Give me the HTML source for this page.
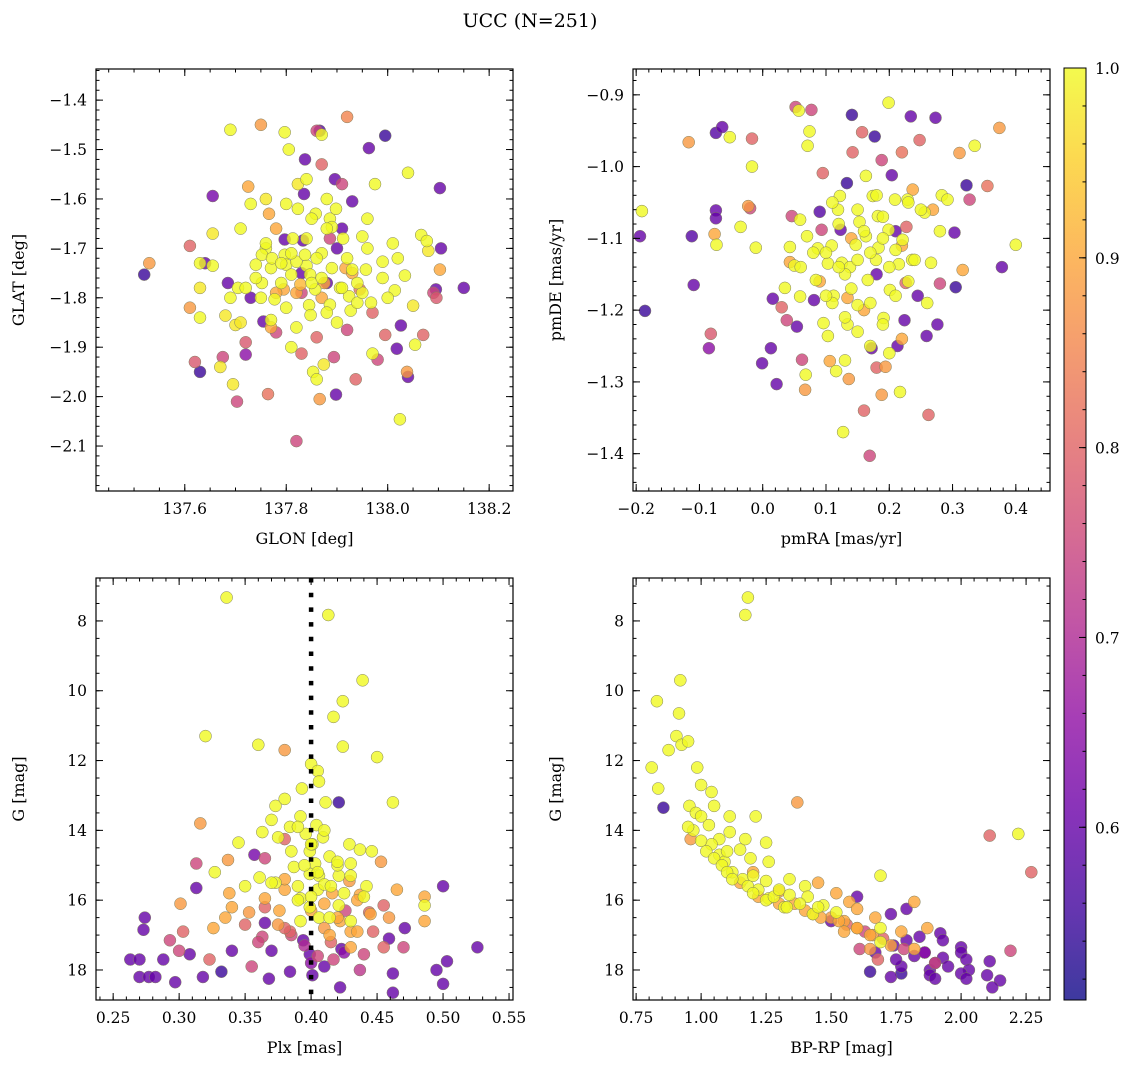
<!DOCTYPE html>
<html><head><meta charset="utf-8">
<style>
html,body{margin:0;padding:0;background:#fff;}
svg{display:block;font-family:"DejaVu Serif","Liberation Serif",serif;}
</style></head>
<body>
<svg id="fig" width="1136" height="1068" viewBox="0 0 1136 1068">
<defs>
<linearGradient id="plasma" x1="0" y1="1" x2="0" y2="0">
<stop offset="0" stop-color="#0d0887"/><stop offset="0.1" stop-color="#41049d"/><stop offset="0.2" stop-color="#6a00a8"/><stop offset="0.3" stop-color="#8f0da4"/><stop offset="0.4" stop-color="#b12a90"/><stop offset="0.5" stop-color="#cc4778"/><stop offset="0.6" stop-color="#e16462"/><stop offset="0.7" stop-color="#f2844b"/><stop offset="0.8" stop-color="#fca636"/><stop offset="0.9" stop-color="#fcce25"/><stop offset="1" stop-color="#f0f921"/>
</linearGradient>
</defs>
<text x="530" y="27" font-size="19" text-anchor="middle">UCC (N=251)</text>
</svg>
<script>
// ---------- data ----------
const glon=[137.52,137.53,137.61,137.61,137.62,137.63,137.63,137.63,137.63,137.64,137.655,137.655,137.655,137.67,137.675,137.68,137.685,137.69,137.695,137.703,137.70,137.705,137.71,137.72,137.72,137.725,137.73,137.75,137.755,137.76,137.76,137.764,137.766,137.77,137.77,137.78,137.79,137.797,137.805,137.81,137.813,137.82,137.82,137.823,137.823,137.83,137.833,137.835,137.837,137.84,137.84,137.845,137.853,137.858,137.86,137.866,137.87,137.874,137.86,137.866,137.87,137.87,137.875,137.88,137.88,137.886,137.886,137.89,137.894,137.896,137.898,137.898,137.91,137.912,137.917,137.92,137.92,137.924,137.927,137.93,137.937,137.94,137.95,137.957,137.963,137.967,137.97,137.975,137.98,137.99,137.995,137.995,138.01,138.014,138.018,138.024,138.026,138.034,138.038,138.04,138.04,138.05,138.054,138.066,138.077,138.08,138.07,138.095,138.103,138.105,138.103,138.09,138.096,138.15,137.752,137.772,137.797,137.80,137.81,137.82,137.795,137.777,137.828,137.847,137.752,137.74,137.73,137.797,137.837,137.857,137.906,137.93,137.945,137.848,137.886,
137.74,137.76,137.78,137.79,137.80,137.81,137.83,137.84,137.85,137.86,137.87,137.88,137.89,137.90,137.91,137.92,137.93,137.95,137.96,137.97,137.99,138.0,137.72,137.71,137.77,137.82,137.85,137.88,137.91,137.94,137.80,137.83,137.87,137.90,137.75,137.78,137.96,138.02,137.69,137.86];
const glat=[-1.753,-1.73,-1.82,-1.695,-1.93,-1.73,-1.78,-1.84,-1.95,-1.73,-1.594,-1.67,-1.735,-1.94,-1.92,-1.836,-1.77,-1.46,-1.975,-2.01,-1.855,-1.78,-1.85,-1.89,-1.915,-1.575,-1.61,-1.45,-1.848,-1.60,-1.70,-1.995,-1.63,-1.74,-1.845,-1.87,-1.77,-1.465,-1.5,-1.90,-1.68,-1.79,-2.09,-1.62,-1.57,-1.913,-1.684,-1.59,-1.52,-1.735,-1.56,-1.815,-1.95,-1.63,-1.462,-1.462,-1.47,-1.935,-1.965,-2.005,-1.53,-1.71,-1.77,-1.77,-1.60,-1.64,-1.68,-1.657,-1.92,-1.56,-1.62,-1.996,-1.57,-1.68,-1.74,-1.865,-1.434,-1.797,-1.826,-1.605,-1.965,-1.81,-1.676,-1.743,-1.497,-1.81,-1.913,-1.57,-1.925,-1.727,-1.875,-1.472,-1.69,-1.785,-1.903,-2.046,-1.856,-1.755,-1.95,-1.96,-1.547,-1.816,-1.895,-1.673,-1.685,-1.705,-1.875,-1.783,-1.578,-1.70,-1.743,-1.79,-1.8,-1.78,-1.713,-1.72,-1.713,-1.733,-1.753,-1.727,-1.783,-1.803,-1.773,-1.753,-1.77,-1.733,-1.80,-1.682,-1.713,-1.783,-1.78,-1.743,-1.783,-1.835,-1.814,
-1.76,-1.69,-1.79,-1.73,-1.82,-1.71,-1.75,-1.68,-1.77,-1.72,-1.80,-1.66,-1.74,-1.70,-1.78,-1.72,-1.75,-1.79,-1.70,-1.83,-1.76,-1.80,-1.78,-1.66,-1.86,-1.86,-1.64,-1.83,-1.66,-1.77,-1.61,-1.79,-1.76,-1.85,-1.80,-1.66,-1.64,-1.72,-1.80,-1.88];
const prob1=[0.55,0.88,0.88,0.8,0.78,1.0,0.98,1.0,0.55,0.6,0.62,0.98,1.0,0.98,0.75,0.98,0.6,1.0,0.98,0.75,0.98,1.0,0.98,0.78,0.65,0.9,1.0,0.88,0.6,0.98,1.0,0.82,0.9,1.0,1.0,0.75,1.0,1.0,1.0,1.0,1.0,0.9,0.75,1.0,0.98,0.8,0.6,0.6,0.6,1.0,1.0,1.0,1.0,1.0,0.75,0.58,1.0,0.98,1.0,0.88,0.8,1.0,0.9,0.6,1.0,1.0,0.75,1.0,0.75,0.6,1.0,0.6,0.75,1.0,0.9,0.75,0.85,1.0,1.0,0.6,0.8,1.0,1.0,1.0,0.6,1.0,1.0,1.0,0.75,1.0,0.8,0.55,1.0,1.0,0.6,1.0,0.6,1.0,0.88,0.6,1.0,0.98,1.0,1.0,1.0,0.98,0.8,0.6,0.6,0.6,0.9,0.75,0.78,0.6,1.0,1.0,1.0,1.0,1.0,1.0,0.9,1.0,0.92,1.0,1.0,1.0,0.6,0.6,1.0,1.0,1.0,1.0,0.82,1.0,1.0,
1.0,1.0,0.9,1.0,1.0,1.0,0.6,1.0,1.0,1.0,0.9,1.0,1.0,0.6,1.0,1.0,0.9,1.0,1.0,0.8,1.0,1.0,1.0,1.0,0.9,1.0,1.0,1.0,0.6,1.0,1.0,0.75,1.0,1.0,1.0,0.9,1.0,1.0,1.0,0.8];

const pmra=[-0.191,-0.194,-0.186,-0.117,-0.112,-0.109,-0.085,-0.082,-0.074,-0.074,-0.074,-0.076,-0.073,-0.064,-0.052,-0.035,-0.023,-0.02,-0.017,-0.017,-0.011,-0.001,0.013,0.016,0.022,0.03,0.035,0.038,0.043,0.043,0.046,0.05,0.054,0.052,0.057,0.059,0.059,0.062,0.067,0.068,0.07,0.071,0.074,0.077,0.081,0.084,0.087,0.09,0.093,0.095,0.096,0.103,0.103,0.106,0.109,0.112,0.116,0.119,0.122,0.123,0.125,0.127,0.133,0.134,0.134,0.136,0.138,0.141,0.142,0.147,0.15,0.153,0.157,0.16,0.163,0.163,0.166,0.169,0.172,0.174,0.177,0.179,0.182,0.183,0.188,0.188,0.191,0.194,0.199,0.199,0.201,0.204,0.209,0.21,0.213,0.215,0.217,0.22,0.221,0.224,0.226,0.227,0.229,0.234,0.236,0.237,0.245,0.248,0.256,0.259,0.262,0.266,0.269,0.273,0.276,0.28,0.283,0.292,0.303,0.305,0.311,0.316,0.322,0.327,0.335,0.355,0.374,0.378,0.4,
0.10,0.12,0.13,0.14,0.15,0.16,0.17,0.18,0.19,0.20,0.21,0.22,0.23,0.11,0.13,0.15,0.17,0.19,0.21,0.12,0.14,0.16,0.18,0.20,0.24,0.26,0.09,0.08,0.25,0.15,0.17,0.19,0.22,0.11,0.13,0.28,0.06,0.18,0.23,0.1];
const pmde=[-1.062,-1.097,-1.201,-0.966,-1.097,-1.165,-1.253,-1.233,-0.953,-1.061,-1.072,-1.094,-1.109,-0.945,-0.959,-1.084,-1.055,-1.058,-0.961,-1.0,-1.113,-1.274,-1.253,-1.184,-1.303,-1.196,-1.169,-1.214,-1.112,-1.133,-1.069,-1.138,-1.223,-0.917,-0.922,-1.074,-1.181,-1.269,-1.311,-1.29,-1.097,-0.971,-0.951,-0.921,-1.186,-1.158,-1.114,-1.063,-1.088,-1.009,-1.218,-1.236,-1.135,-1.271,-1.11,-1.18,-1.285,-1.06,-1.041,-1.088,-1.134,-1.37,-1.023,-1.183,-1.22,-1.296,-1.14,-0.928,-0.98,-1.109,-1.193,-1.077,-0.952,-1.34,-1.013,-1.097,-1.158,-1.403,-1.253,-1.041,-0.958,-1.13,-1.069,-1.113,-0.991,-1.318,-1.211,-1.279,-0.911,-1.088,-1.172,-1.012,-1.046,-1.116,-1.25,-1.136,-1.314,-0.98,-1.102,-1.214,-1.162,-1.084,-1.046,-0.93,-1.13,-1.032,-1.18,-0.963,-1.064,-1.236,-1.346,-1.134,-1.06,-0.932,-1.22,-1.163,-1.04,-1.046,-1.092,-1.168,-0.981,-1.144,-1.026,-1.046,-0.971,-1.027,-0.946,-1.14,-1.109,
-1.12,-1.08,-1.15,-1.10,-1.13,-1.09,-1.12,-1.15,-1.07,-1.14,-1.18,-1.11,-1.16,-1.19,-1.21,-1.06,-1.19,-1.22,-1.09,-1.14,-1.17,-1.20,-1.04,-1.26,-1.13,-1.19,-1.16,-1.12,-1.06,-1.23,-1.25,-1.10,-1.24,-1.05,-1.27,-1.09,-1.14,-1.28,-1.05,-1.18];
const prob2=[1.0,0.6,0.55,0.88,0.58,0.6,0.65,0.78,0.58,0.6,0.6,0.9,1.0,0.6,1.0,1.0,0.88,0.75,0.8,1.0,1.0,0.6,0.6,0.6,0.6,0.8,1.0,0.75,1.0,0.9,0.75,1.0,0.6,0.75,1.0,1.0,1.0,0.75,0.88,1.0,1.0,1.0,1.0,0.75,0.6,1.0,1.0,0.58,0.75,0.8,1.0,1.0,1.0,0.9,1.0,1.0,1.0,1.0,1.0,0.6,1.0,1.0,0.55,0.9,1.0,0.88,1.0,0.55,0.8,1.0,1.0,1.0,0.8,0.8,1.0,1.0,1.0,0.75,0.6,1.0,0.55,1.0,1.0,1.0,0.75,0.88,1.0,0.88,1.0,1.0,1.0,0.6,1.0,1.0,0.6,1.0,1.0,0.82,1.0,0.6,0.8,0.8,1.0,0.6,1.0,0.9,0.6,0.8,1.0,0.6,0.8,1.0,0.9,0.6,0.6,0.75,1.0,1.0,0.6,0.55,0.88,0.9,0.55,0.75,1.0,0.82,0.88,0.6,1.0,
1.0,1.0,1.0,0.9,1.0,1.0,1.0,0.6,1.0,1.0,1.0,0.9,1.0,1.0,1.0,1.0,1.0,1.0,0.6,1.0,1.0,0.9,1.0,1.0,1.0,1.0,0.9,1.0,1.0,1.0,1.0,1.0,0.9,1.0,1.0,1.0,1.0,0.8,1.0,1.0];

const plx=[0.336,0.413,0.439,0.424,0.417,0.32,0.36,0.38,0.424,0.45,0.40,0.405,0.406,0.393,0.411,0.421,0.462,0.373,0.392,0.404,0.316,0.384,0.363,0.38,0.396,0.345,0.429,0.437,0.446,0.414,0.357,0.409,0.399,0.43,0.365,0.337,0.313,0.453,0.387,0.327,0.421,0.429,0.361,0.373,0.35,0.442,0.38,0.405,0.465,0.313,0.5,0.416,0.338,0.437,0.392,0.365,0.486,0.421,0.399,0.301,0.486,0.455,0.376,0.426,0.353,0.34,0.444,0.459,0.406,0.392,0.335,0.365,0.422,0.471,0.274,0.326,0.303,0.384,0.43,0.486,0.273,0.447,0.414,0.363,0.394,0.459,0.293,0.43,0.3,0.34,0.37,0.455,0.423,0.526,0.47,0.263,0.288,0.323,0.27,0.308,0.399,0.417,0.44,0.503,0.332,0.355,0.384,0.401,0.27,0.277,0.282,0.297,0.318,0.368,0.495,0.462,0.5,0.422,0.462,0.437,0.406,0.401,0.403,0.41,0.399,0.414,
0.37,0.375,0.38,0.385,0.39,0.395,0.40,0.405,0.41,0.415,0.42,0.425,0.43,0.435,0.44,0.37,0.38,0.39,0.40,0.41,0.42,0.43,0.365,0.375,0.385,0.395,0.405,0.415,0.425,0.435,0.39,0.40,0.41,0.42,0.38,0.36,0.445,0.35,0.41,0.40];
const gmag3=[7.33,7.83,9.7,10.3,10.75,11.3,11.55,11.7,11.6,11.9,12.1,12.3,12.6,12.8,13.2,13.2,13.2,13.3,13.6,13.85,13.8,13.9,14.05,14.25,14.1,14.35,14.4,14.55,14.6,14.75,14.7,14.2,14.6,14.95,14.8,14.85,14.95,14.9,15.05,15.2,15.3,15.45,15.35,15.5,15.6,15.6,15.7,15.7,15.7,15.65,15.6,15.8,15.8,15.85,15.95,15.95,15.9,16.15,16.2,16.1,16.15,16.15,16.3,16.3,16.35,16.2,16.35,16.5,16.5,16.6,16.5,16.65,16.6,16.8,16.5,16.8,16.9,16.9,16.9,16.6,16.85,16.9,17.0,17.05,17.15,17.1,17.15,17.35,17.45,17.45,17.45,17.35,17.4,17.35,17.35,17.7,17.7,17.7,17.7,17.55,17.55,17.7,17.55,17.75,18.05,17.9,18.05,18.15,18.2,18.2,18.2,18.35,18.2,18.25,18.0,18.1,18.4,18.5,18.65,18.0,15.3,14.4,14.95,15.55,15.25,16.5,
13.7,14.2,13.1,14.6,13.9,15.0,14.4,15.2,14.0,15.6,15.0,15.8,15.3,16.0,15.9,15.5,15.4,16.0,16.3,16.8,16.5,16.6,16.2,16.7,17.0,17.3,17.6,17.2,17.5,16.9,15.6,15.9,16.1,14.9,16.8,17.2,16.4,16.7,17.9,17.8];
const prob3=[1.0,1.0,1.0,1.0,1.0,1.0,1.0,0.88,1.0,1.0,1.0,1.0,1.0,1.0,1.0,0.55,1.0,1.0,1.0,1.0,0.88,1.0,1.0,0.8,1.0,1.0,1.0,1.0,1.0,1.0,0.62,1.0,1.0,1.0,0.75,0.88,0.75,0.88,1.0,1.0,1.0,0.88,1.0,1.0,1.0,1.0,0.9,1.0,0.9,0.6,0.6,0.9,0.9,0.9,1.0,0.9,0.9,1.0,1.0,0.88,1.0,0.8,0.9,0.75,0.88,0.9,0.8,0.88,1.0,1.0,0.9,0.6,0.9,0.6,0.6,0.9,0.8,0.8,0.9,0.9,0.6,0.8,0.9,0.75,0.6,0.6,0.75,0.9,0.75,0.6,0.6,0.8,0.6,0.6,0.75,0.6,0.6,0.8,0.6,0.6,0.6,0.75,0.75,0.6,0.55,0.75,0.6,0.6,0.6,0.6,0.6,0.6,0.6,0.6,0.6,0.6,0.6,0.6,0.6,0.72,1.0,1.0,1.0,1.0,1.0,1.0,
1.0,1.0,1.0,1.0,1.0,1.0,1.0,1.0,1.0,1.0,1.0,1.0,1.0,0.9,1.0,1.0,0.9,1.0,0.9,0.88,0.9,1.0,0.8,0.88,0.75,0.7,0.75,0.8,0.65,0.9,1.0,1.0,0.9,1.0,0.8,0.75,0.9,0.8,0.6,0.65];

const bprp=[1.18,1.17,0.92,0.83,0.915,0.905,0.925,0.875,0.95,0.81,0.985,0.835,1.0,1.04,0.855,0.955,1.37,1.05,1.11,0.98,1.21,1.03,0.97,1.11,1.07,1.17,1.04,0.96,1.15,1.25,1.07,2.22,2.11,1.09,1.19,1.26,1.12,1.2,1.16,1.25,1.34,1.69,1.4,1.22,1.3,1.45,2.27,1.34,1.41,1.26,1.52,1.38,1.47,1.57,1.6,1.32,1.52,1.43,1.6,1.82,1.67,1.55,1.73,1.5,1.79,1.69,1.6,1.77,1.84,1.65,1.79,1.87,1.69,1.92,1.73,1.61,1.93,1.82,2.0,1.67,1.86,2.19,2.0,1.93,1.68,1.9,2.02,2.11,1.77,1.88,2.03,1.65,1.77,1.88,2.0,1.73,1.9,2.1,2.15,2.12,2.02,
0.95,1.0,1.02,1.05,1.08,1.1,1.12,1.15,1.18,1.2,1.22,1.25,1.28,1.3,1.33,1.36,1.4,1.43,1.46,1.5,1.53,1.56,1.6,1.63,1.66,1.7,1.74,1.78,1.82,1.86,1.9,1.95,1.0,1.1,1.2,1.3,1.45,1.55,1.65,1.75];
const gmag4=[7.33,7.83,9.7,10.3,10.65,11.3,11.55,11.7,11.45,12.2,12.2,12.8,12.7,12.9,13.35,13.3,13.2,13.3,13.6,13.5,13.6,13.85,14.0,14.05,14.25,14.25,14.4,14.25,14.55,14.35,14.7,14.1,14.15,14.9,14.8,14.9,15.2,15.2,15.4,15.45,15.4,15.3,15.6,15.7,15.75,15.5,15.2,15.85,15.9,15.95,15.8,16.1,16.15,16.05,15.9,16.2,16.35,16.4,16.25,16.05,16.5,16.6,16.4,16.6,16.25,16.8,16.8,16.9,17.05,17.0,17.15,16.8,17.2,16.95,17.3,17.4,17.15,17.4,17.35,17.5,17.5,17.45,17.5,17.65,17.7,17.8,17.7,17.75,17.9,18.0,18.0,18.05,18.1,18.15,18.1,18.2,18.25,18.15,18.3,18.5,18.25,
13.9,14.3,14.6,14.8,15.0,15.2,15.4,15.5,15.6,15.8,15.9,16.0,15.9,16.1,16.2,16.1,16.3,16.4,16.5,16.5,16.6,16.7,16.8,16.9,17.0,17.1,17.3,17.4,17.6,17.5,17.8,17.9,13.6,14.6,15.3,15.7,16.2,16.9,17.4,17.7];
const prob4=[1.0,1.0,1.0,1.0,1.0,1.0,1.0,1.0,1.0,1.0,1.0,1.0,1.0,1.0,0.55,1.0,0.88,1.0,1.0,1.0,1.0,1.0,1.0,1.0,1.0,1.0,1.0,0.88,1.0,1.0,1.0,1.0,0.8,1.0,1.0,1.0,1.0,0.9,1.0,1.0,1.0,1.0,1.0,1.0,0.9,0.9,0.8,1.0,1.0,1.0,0.9,1.0,1.0,0.9,0.6,1.0,1.0,0.9,0.9,0.9,0.9,0.9,0.6,0.6,0.6,1.0,0.9,0.9,0.6,0.9,0.6,0.9,1.0,0.6,0.9,0.75,0.6,0.9,0.6,0.6,0.6,0.75,0.6,0.6,0.8,0.75,0.6,0.6,0.6,0.6,0.6,0.55,0.55,0.6,0.6,0.6,0.6,0.6,0.6,0.6,0.6,
1.0,1.0,1.0,1.0,1.0,1.0,1.0,0.9,1.0,1.0,0.9,1.0,1.0,0.9,1.0,0.9,0.9,1.0,0.9,0.88,0.9,0.8,0.9,0.75,0.88,0.8,0.6,0.75,0.6,0.65,0.6,0.6,1.0,1.0,1.0,1.0,1.0,0.9,0.88,0.6];

const cbTicks=[0.6,0.7,0.8,0.9,1.0];
const VMIN=0.509, VMAX=1.0;

// ---------- helpers ----------
const NS="http://www.w3.org/2000/svg";
const svg=document.getElementById('fig');
function mk(tag,attrs,parent){const e=document.createElementNS(NS,tag);for(const k in attrs)e.setAttribute(k,attrs[k]);(parent||svg).appendChild(e);return e;}
const stops=[[13,8,135],[65,4,157],[106,0,168],[143,13,164],[177,42,144],[204,71,120],[225,100,98],[242,132,75],[252,166,54],[252,206,37],[240,249,33]];
function plasma(v){let t=(v-VMIN)/(VMAX-VMIN);t=Math.max(0,Math.min(1,t))*10;const i=Math.min(9,Math.floor(t)),f=t-i;const a=stops[i],b=stops[i+1];return `rgb(${Math.round(a[0]+(b[0]-a[0])*f)},${Math.round(a[1]+(b[1]-a[1])*f)},${Math.round(a[2]+(b[2]-a[2])*f)})`;}
function fmt(v,d){return (v<0?'\u2212':'')+Math.abs(v).toFixed(d);}
function range(a,b,s){const r=[];for(let v=a;v<=b+s*1e-6;v+=s)r.push(+v.toFixed(6));return r;}

function panel(cfg){
  const g=mk('g',{});
  
  
  const sx=v=>cfg.px0+(v-cfg.x0)/(cfg.x1-cfg.x0)*(cfg.px1-cfg.px0);
  const sy=v=>cfg.py0+(v-cfg.yTop)/(cfg.yBot-cfg.yTop)*(cfg.py1-cfg.py0);
  const pg=mk('g',{},g);
  
  
  const idx=cfg.xs.map((_,i)=>i).sort((a,b)=>cfg.cs[a]-cfg.cs[b]);
  idx.forEach(i=>{
    const c=mk('circle',{cx:sx(cfg.xs[i]).toFixed(1),cy:sy(cfg.ys[i]).toFixed(1),r:6,fill:plasma(cfg.cs[i]),'fill-opacity':0.8,stroke:'#808060','stroke-width':0.5},pg);
    
    
  });
  if(cfg.vline!==undefined){
    const l=mk('line',{x1:sx(cfg.vline),x2:sx(cfg.vline),y1:cfg.py0,y2:cfg.py1,stroke:'#000','stroke-width':4.5,'stroke-dasharray':'4.5 10.2'},g);
    
    
  }
  const fr=mk('rect',{x:cfg.px0,y:cfg.py0,width:cfg.px1-cfg.px0,height:cfg.py1-cfg.py0,fill:'none',stroke:'#000','stroke-width':1.2},g);
  
  
  const tk=mk('g',{stroke:'#000','stroke-width':1},g);
  
  
  const inX=v=>{const p=sx(v);return p>=cfg.px0-0.5&&p<=cfg.px1+0.5;};
  const inY=v=>{const p=sy(v);return p>=cfg.py0-0.5&&p<=cfg.py1+0.5;};
  cfg.xminor.filter(inX).forEach(v=>{const p=sx(v);mk('line',{x1:p,x2:p,y1:cfg.py1,y2:cfg.py1-3.5},tk);mk('line',{x1:p,x2:p,y1:cfg.py0,y2:cfg.py0+3.5},tk);});
  cfg.yminor.filter(inY).forEach(v=>{const p=sy(v);mk('line',{x1:cfg.px0,x2:cfg.px0+3.5,y1:p,y2:p},tk);mk('line',{x1:cfg.px1,x2:cfg.px1-3.5,y1:p,y2:p},tk);});
  cfg.xticks.filter(inX).forEach(v=>{const p=sx(v);mk('line',{x1:p,x2:p,y1:cfg.py1,y2:cfg.py1-7},tk);mk('line',{x1:p,x2:p,y1:cfg.py0,y2:cfg.py0+7},tk);
    const t=mk('text',{x:p,y:cfg.py1+23,'font-size':15.5,'text-anchor':'middle'},g);t.textContent=fmt(v,cfg.xd);
    
    });
  cfg.yticks.filter(inY).forEach(v=>{const p=sy(v);mk('line',{x1:cfg.px0,x2:cfg.px0+7,y1:p,y2:p},tk);mk('line',{x1:cfg.px1,x2:cfg.px1-7,y1:p,y2:p},tk);
    const t=mk('text',{x:cfg.px0-9,y:p+5.5,'font-size':15.5,'text-anchor':'end'},g);t.textContent=fmt(v,cfg.yd);
    
    });
  const xl=mk('text',{x:(cfg.px0+cfg.px1)/2,y:cfg.py1+53,'font-size':16,'text-anchor':'middle'},g);xl.textContent=cfg.xlabel;
  
  
  const yx=cfg.px0-72,yc=(cfg.py0+cfg.py1)/2;
  const yl=mk('text',{x:yx,y:yc,'font-size':16,'text-anchor':'middle',transform:`rotate(-90 ${yx} ${yc})`},g);yl.textContent=cfg.ylabel;
  
  
}

panel({name:'glon-glat-panel',xs:glon,ys:glat,cs:prob1,x0:137.425,x1:138.247,px0:96,px1:513,yTop:-1.337,yBot:-2.191,py0:69,py1:491,
  xticks:range(137.6,138.2,0.2),xminor:range(137.45,138.25,0.05),xd:1,yticks:range(-2.1,-1.4,0.1),yminor:range(-2.18,-1.34,0.02),yd:1,xlabel:'GLON [deg]',ylabel:'GLAT [deg]'});
panel({name:'pm-panel',xs:pmra,ys:pmde,cs:prob2,x0:-0.205,x1:0.454,px0:633,px1:1050,yTop:-0.864,yBot:-1.452,py0:69,py1:491,
  xticks:range(-0.2,0.4,0.1),xminor:range(-0.2,0.45,0.02),xd:1,yticks:range(-1.4,-0.9,0.1),yminor:range(-1.44,-0.86,0.02),yd:1,xlabel:'pmRA [mas/yr]',ylabel:'pmDE [mas/yr]'});
panel({name:'plx-g-panel',xs:plx,ys:gmag3,cs:prob3,x0:0.237,x1:0.553,px0:96,px1:513,yTop:6.77,yBot:18.86,py0:578,py1:1000,vline:0.40,
  xticks:range(0.25,0.55,0.05),xminor:range(0.24,0.55,0.01),xd:2,yticks:range(8,18,2),yminor:range(7,18.5,0.5),yd:0,xlabel:'Plx [mas]',ylabel:'G [mag]'});
panel({name:'cmd-panel',xs:bprp,ys:gmag4,cs:prob4,x0:0.738,x1:2.342,px0:633,px1:1050,yTop:6.77,yBot:18.86,py0:578,py1:1000,
  xticks:range(0.75,2.25,0.25),xminor:range(0.75,2.3,0.05),xd:2,yticks:range(8,18,2),yminor:range(7,18.5,0.5),yd:0,xlabel:'BP-RP [mag]',ylabel:'G [mag]'});

// colorbar
const cb=mk('g',{});


const cy=v=>1000-(v-VMIN)/(VMAX-VMIN)*(1000-68);
mk('rect',{x:1064,y:68,width:22,height:932,fill:'url(#plasma)','fill-opacity':0.8},cb);
mk('rect',{x:1064,y:68,width:22,height:932,fill:'none',stroke:'#000','stroke-width':1},cb);
range(0.52,1.0,0.02).forEach(v=>{const p=cy(v);mk('line',{x1:1086,x2:1082.5,y1:p,y2:p,stroke:'#000','stroke-width':1},cb);});
cbTicks.forEach(v=>{const p=cy(v);mk('line',{x1:1086,x2:1079,y1:p,y2:p,stroke:'#000','stroke-width':1},cb);
  const t=mk('text',{x:1095,y:p+6,'font-size':15.5},cb);t.textContent=v.toFixed(1);
  
  });
</script>
</body></html>
